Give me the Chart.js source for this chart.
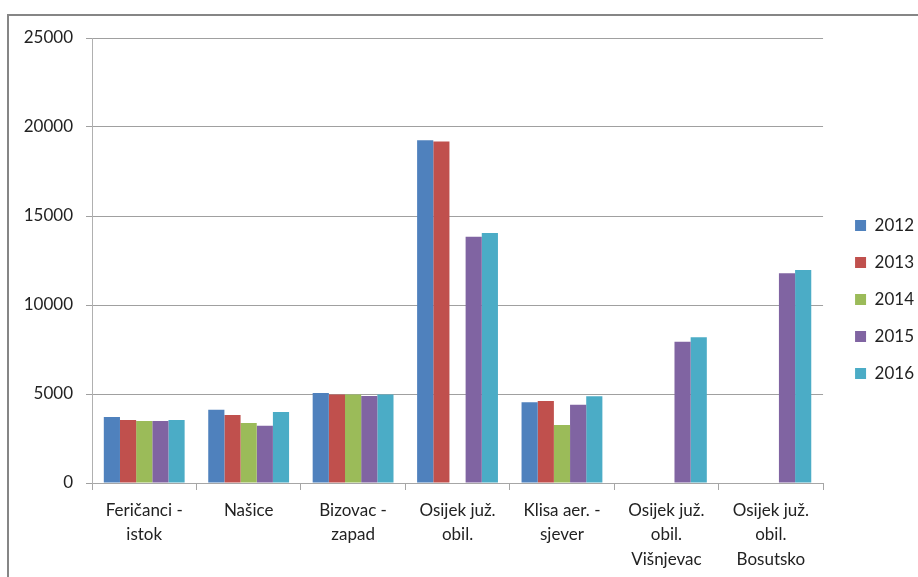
<!DOCTYPE html>
<html>
<head>
<meta charset="utf-8">
<script src="https://cdn.jsdelivr.net/npm/chart.js@4"></script>
<style>
  html, body { margin: 0; padding: 0; background: #fff; }
  #wrap { width: 918px; height: 577px; }
</style>
</head>
<body>
<div id="wrap"><canvas id="chart" width="918" height="577"></canvas></div>
<script>
// categories (multi-line labels as in the original)
const stations = [
  ['Feričanci -', 'istok'],
  ['Našice'],
  ['Bizovac -', 'zapad'],
  ['Osijek juž.', 'obil.'],
  ['Klisa aer. -', 'sjever'],
  ['Osijek juž.', 'obil.', 'Višnjevac'],
  ['Osijek juž.', 'obil.', 'Bosutsko']
];
const years = ['2012', '2013', '2014', '2015', '2016'];

// values
const v2012 = [3710, 4110, 5050, 19250, 4540, null, null];
const v2013 = [3540, 3820, 4970, 19190, 4600, null, null];
const v2014 = [3490, 3370, 4970, null, 3260, null, null];
const v2015 = [3490, 3220, 4890, 13840, 4390, 7930, 11790];
const v2016 = [3540, 3990, 4970, 14040, 4880, 8190, 11960];

const colors = ['#4F81BD', '#C0504D', '#9BBB59', '#8064A2', '#4BACC6'];
const series = [v2012, v2013, v2014, v2015, v2016];

const font = { family: 'Lato', size: 17 };

// frame around the chart (runs partly off the picture)
const framePlugin = {
  id: 'frame',
  beforeDraw(chart) {
    const c = chart.ctx;
    c.save();
    c.strokeStyle = '#868686';
    c.lineWidth = 2;
    c.beginPath();
    c.moveTo(8, 577);
    c.lineTo(8, 15);
    c.lineTo(918, 15);
    c.stroke();
    c.restore();
  }
};

new Chart(document.getElementById('chart'), {
  type: 'bar',
  data: {
    labels: stations,
    datasets: years.map((y, i) => ({
      label: y,
      data: series[i],
      backgroundColor: colors[i],
      borderWidth: 0,
      categoryPercentage: 0.774,
      barPercentage: 1.0
    }))
  },
  options: {
    responsive: false,
    animation: false,
    layout: { padding: { left: 0, top: 22, right: -6, bottom: 0 } },
    plugins: {
      tooltip: { enabled: false },
      legend: {
        position: 'right',
        labels: {
          boxWidth: 11,
          boxHeight: 11,
          padding: 20,
          color: '#222',
          font: font
        }
      }
    },
    scales: {
      x: {
        grid: { offset: true, drawOnChartArea: false, drawTicks: true, tickLength: 7, color: '#a6a6a6' },
        border: { color: '#a6a6a6' },
        ticks: { color: '#222', font: { family: 'Lato', size: 17, lineHeight: 1.44 }, padding: 8, maxRotation: 0, autoSkip: false },
        afterFit(s) { s.height = 577 - 483; }
      },
      y: {
        min: 0,
        max: 25000,
        ticks: { stepSize: 5000, color: '#222', font: font, padding: 13, callback: v => String(v) },
        grid: { color: '#a0a0a0', tickLength: 6 },
        border: { color: '#b0b0b0' },
        afterFit(s) { s.width = 92; }
      },
      topSpacer: {
        position: 'top',
        display: true,
        grid: { display: false },
        border: { display: false },
        ticks: { display: false },
        afterFit(s) { s.height = 16; }
      },
      spacer: {
        position: 'right',
        display: true,
        grid: { display: false },
        border: { display: false },
        ticks: { display: false },
        afterFit(s) { s.width = 12; }
      }
    }
  },
  plugins: [framePlugin]
});
</script>
</body>
</html>
